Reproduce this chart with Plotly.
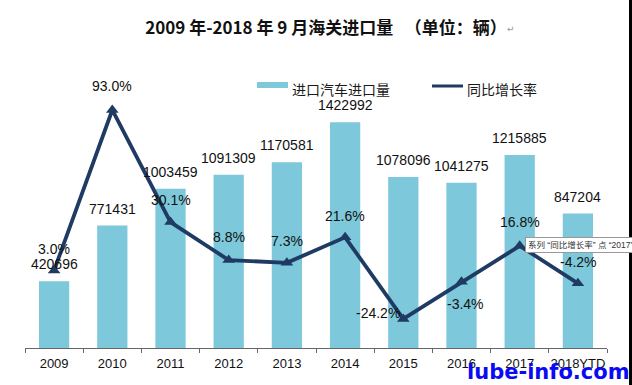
import plotly.graph_objects as go

years = ["2009", "2010", "2011", "2012", "2013", "2014", "2015", "2016", "2017", "2018YTD"]
volumes = [420696, 771431, 1003459, 1091309, 1170581, 1422992, 1078096, 1041275, 1215885, 847204]
growth = [3.0, 93.0, 30.1, 8.8, 7.3, 21.6, -24.2, -3.4, 16.8, -4.2]
growth_labels = ["3.0%", "93.0%", "30.1%", "8.8%", "7.3%", "21.6%", "-24.2%", "-3.4%", "16.8%", "-4.2%"]

BAR_COLOR = "#7DC8DA"
LINE_COLOR = "#1F3B63"
NUM_FONT = "Liberation Sans, Arial, sans-serif"
CJK_FONT = "Noto Sans CJK SC, sans-serif"

W, H = 632, 385
ML, MR, MT, MB = 25, 25, 95, 37
PW = W - ML - MR
PH = H - MT - MB

def px(x):
    return (x - ML) / PW

def py(y):
    return (H - MB - y) / PH

fig = go.Figure()
fig.add_trace(go.Bar(x=years, y=volumes, marker=dict(color=BAR_COLOR, line=dict(width=0)),
                     name="进口汽车进口量", showlegend=False, hoverinfo="skip"))
fig.add_trace(go.Scatter(x=years, y=growth, yaxis="y2", mode="lines+markers",
                         line=dict(color=LINE_COLOR, width=3.8),
                         marker=dict(symbol="triangle-up", size=11, color=LINE_COLOR),
                         name="同比增长率", showlegend=False, hoverinfo="skip"))

annotations = []
for i, v in enumerate(volumes):
    annotations.append(dict(x=i, y=v, xref="x", yref="y", text=str(v), showarrow=False,
                            yanchor="middle", yshift=17,
                            font=dict(family=NUM_FONT, size=14, color="#111")))

# label offsets (xshift, yshift) per growth point
offsets = [(0, 21), (0, 24), (0, 22), (0, 23), (0, 22), (0, 21), (-25, 6), (4, -22), (0, 24), (1, 21)]
for i, (g, lab, (dx, dy)) in enumerate(zip(growth, growth_labels, offsets)):
    annotations.append(dict(x=i, y=g, xref="x", yref="y2", text=lab, showarrow=False,
                            yanchor="middle", xshift=dx, yshift=dy,
                            font=dict(family=NUM_FONT, size=14, color="#111")))

# legend (manual)
annotations.append(dict(x=px(290), y=py(89), xref="paper", yref="paper", text="进口汽车进口量",
                        showarrow=False, xanchor="left", yanchor="middle",
                        font=dict(family=CJK_FONT, size=14, color="#1a1a1a")))
annotations.append(dict(x=px(465), y=py(89), xref="paper", yref="paper", text="同比增长率",
                        showarrow=False, xanchor="left", yanchor="middle",
                        font=dict(family=CJK_FONT, size=14, color="#1a1a1a")))

# tooltip artifact
annotations.append(dict(x=px(525), y=py(245), xref="paper", yref="paper",
                        text="系列 “同比增长率” 点 “2017”", showarrow=False,
                        xanchor="left", yanchor="middle", bgcolor="white",
                        bordercolor="#999", borderwidth=1, borderpad=2,
                        font=dict(family="Liberation Sans, Noto Sans CJK SC, sans-serif",
                                  size=8.5, color="#333")))

# return mark after title
annotations.append(dict(x=px(511), y=py(29), xref="paper", yref="paper", text="↵",
                        showarrow=False, xanchor="center", yanchor="middle",
                        font=dict(family="DejaVu Sans", size=9, color="#999")))

# watermark
annotations.append(dict(x=px(548), y=py(372), xref="paper", yref="paper", text="<b>lube-info.com</b>",
                        showarrow=False, xanchor="center", yanchor="middle",
                        font=dict(family="DejaVu Sans", size=21, color="#0A0AF5")))

shapes = [
    dict(type="rect", xref="paper", yref="paper", x0=px(257), x1=px(288), y0=py(88), y1=py(82),
         fillcolor=BAR_COLOR, line=dict(width=0)),
    dict(type="line", xref="paper", yref="paper", x0=px(432), x1=px(463), y0=py(86), y1=py(86),
         line=dict(color=LINE_COLOR, width=3)),
    dict(type="rect", xref="paper", yref="paper", x0=px(629), x1=px(634), y0=py(-5), y1=py(390),
         fillcolor="black", line=dict(width=0)),
]

fig.update_layout(
    width=W, height=H,
    margin=dict(l=ML, r=MR, t=MT, b=MB, autoexpand=False),
    paper_bgcolor="white", plot_bgcolor="white",
    bargap=0.48,
    title=dict(text="<b>2009 年-2018 年 9 月海关进口量   （单位：辆）</b>",
               x=326 / W, xref="container", xanchor="center",
               y=1 - 28 / H, yref="container", yanchor="middle",
               font=dict(family=CJK_FONT, size=17, color="#111")),
    xaxis=dict(type="category", showline=True, linecolor="#666", linewidth=1,
               ticks="outside", tickson="boundaries", ticklen=4, tickcolor="#666",
               tickangle=0, ticklabelstandoff=3,
               showgrid=False, tickfont=dict(family=NUM_FONT, size=13, color="#111"),
               range=[-0.5, 9.5]),
    yaxis=dict(range=[0, 1594000], visible=False, showgrid=False),
    yaxis2=dict(range=[-40.5, 101.4], overlaying="y", side="right", visible=False, showgrid=False),
    annotations=annotations,
    shapes=shapes,
)

fig.write_html("out.html", config={"displayModeBar": False},
               post_script="document.body.style.margin='0';document.body.style.padding='0';")
